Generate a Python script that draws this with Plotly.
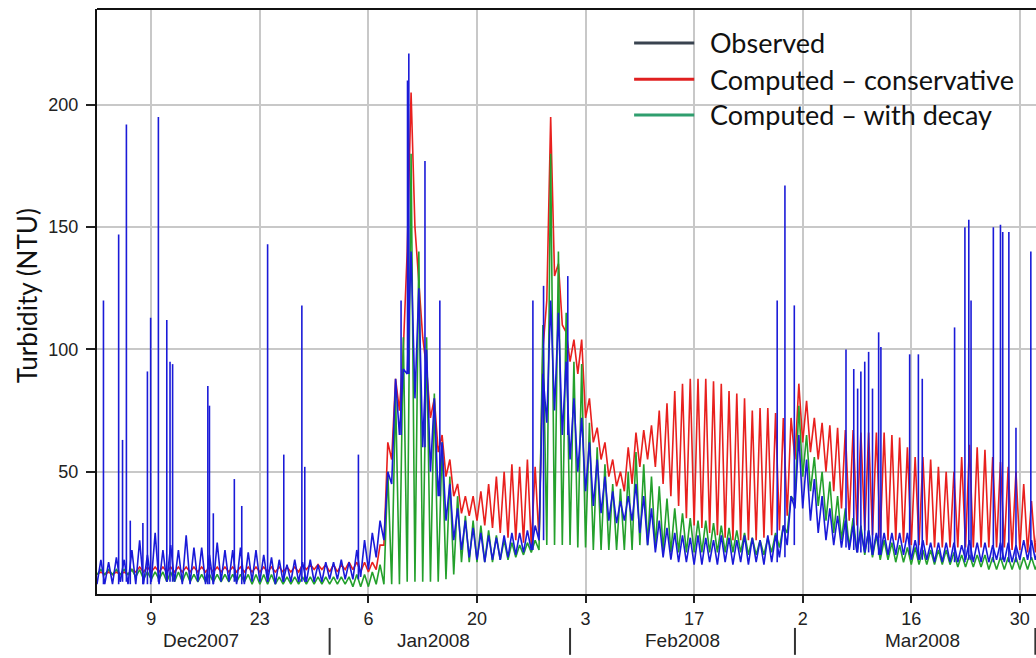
import pandas as pd
import plotly.graph_objects as go

# daily values, one entry per day from 2 Dec 2007 (trough, then peak)
START = "2007-12-02"

RED_LO = [8, 8, 8, 8, 8, 9, 9, 9, 9, 9,
          9, 9, 9, 9, 9, 9, 9, 9, 9, 9,
          9, 9, 9, 9, 9, 9, 9, 10, 10, 10,
          9, 9, 10, 10, 9, 9, 10, 20, 55, 75,
          140, 150, 105, 72, 58, 48, 40, 33, 32, 30,
          28, 27, 25, 23, 22, 21, 20, 22, 120, 130,
          110, 95, 90, 72, 62, 55, 48, 44, 42, 45,
          52, 55, 52, 45, 40, 36, 31, 28, 27, 25,
          24, 23, 22, 22, 22, 22, 23, 24, 26, 32,
          55, 62, 58, 55, 50, 42, 35, 30, 28, 26,
          24, 23, 22, 22, 21, 20, 20, 20, 19, 19,
          19, 19, 19, 19, 19, 19, 19, 19, 18, 18, 17, 17]
RED_HI = [9, 9, 9, 9, 10, 11, 11, 11, 11, 11,
          11, 11, 11, 11, 11, 11, 11, 11, 11, 11,
          11, 11, 11, 11, 11, 11, 12, 12, 12, 12,
          12, 12, 13, 13, 13, 13, 20, 62, 88, 100,
          205, 128, 92, 80, 65, 55, 45, 40, 40, 42,
          45, 48, 50, 53, 52, 55, 52, 100, 195, 135,
          107, 104, 104, 80, 68, 62, 55, 50, 60, 66,
          67, 69, 75, 78, 83, 86, 88, 88, 88, 87,
          86, 83, 82, 80, 75, 76, 76, 74, 72, 72,
          86, 79, 72, 70, 69, 68, 67, 67, 66, 66,
          66, 66, 65, 64, 60, 56, 56, 55, 52, 50,
          50, 56, 61, 60, 59, 56, 54, 52, 50, 45, 38, 37]

GREEN_LO = [8, 8, 8, 8, 8, 7, 6, 6, 6, 5,
            5, 5, 5, 5, 5, 5, 5, 5, 5, 5,
            4, 4, 4, 4, 4, 4, 4, 4, 4, 4,
            4, 4, 4, 3, 3, 3, 4, 4, 4, 4,
            5, 5, 5, 5, 5, 6, 8, 13, 13, 13,
            13, 13, 14, 14, 15, 16, 17, 18, 20, 20,
            20, 20, 19, 19, 18, 18, 18, 18, 18, 18,
            20, 20, 19, 18, 17, 17, 17, 17, 17, 17,
            17, 17, 17, 17, 16, 16, 16, 17, 19, 25,
            38, 48, 42, 36, 30, 25, 22, 19, 17, 16,
            15, 14, 14, 13, 13, 12, 12, 12, 12, 12,
            12, 11, 11, 11, 11, 10, 10, 10, 10, 10, 10, 10]
GREEN_HI = [10, 10, 10, 10, 10, 10, 9, 9, 9, 9,
            9, 9, 8, 8, 8, 8, 8, 8, 8, 8,
            8, 8, 8, 7, 7, 7, 7, 7, 7, 7,
            7, 7, 7, 8, 8, 9, 12, 50, 82, 105,
            180, 140, 105, 82, 62, 48, 40, 32, 30, 28,
            26, 24, 22, 21, 20, 21, 22, 110, 180, 140,
            115, 95, 94, 70, 60, 53, 45, 43, 50, 58,
            53, 48, 44, 39, 35, 33, 31, 30, 30, 29,
            28, 27, 26, 25, 23, 22, 23, 25, 28, 40,
            77, 65, 56, 50, 46, 40, 35, 31, 28, 26,
            24, 22, 21, 20, 19, 19, 18, 18, 18, 18,
            17, 16, 16, 16, 16, 15, 15, 15, 15, 15, 15, 15]

OBS_LO = [4, 4, 4, 5, 4, 4, 4, 5, 4, 5,
          5, 4, 4, 5, 4, 4, 5, 5, 4, 4,
          5, 5, 5, 4, 5, 5, 5, 5, 5, 5,
          6, 6, 6, 6, 7, 10, 15, 22, 45, 65,
          90, 80, 60, 50, 40, 30, 22, 18, 15, 14,
          13, 14, 14, 15, 16, 17, 18, 22, 70, 75,
          65, 55, 50, 42, 36, 33, 30, 29, 30, 30,
          25, 20, 17, 15, 14, 13, 13, 12, 12, 13,
          12, 13, 12, 13, 12, 13, 12, 13, 15, 20,
          35, 35, 30, 25, 22, 20, 19, 18, 17, 17,
          16, 16, 16, 16, 16, 14, 14, 14, 13, 13,
          13, 13, 14, 13, 13, 13, 14, 13, 13, 14, 14, 14]
OBS_HI = [14, 13, 15, 14, 18, 22, 16, 25, 18, 20,
          18, 24, 19, 19, 16, 21, 18, 18, 19, 17,
          18, 16, 15, 14, 12, 14, 13, 14, 12, 13,
          13, 14, 13, 18, 22, 25, 30, 50, 88, 92,
          140, 125, 100, 80, 62, 45, 35, 30, 27, 25,
          24, 23, 24, 25, 25, 26, 28, 90, 120, 115,
          95, 80, 72, 62, 55, 48, 42, 38, 40, 45,
          40, 35, 30, 27, 25, 24, 23, 24, 23, 22,
          24, 23, 22, 24, 23, 22, 24, 24, 28, 40,
          65, 55, 47, 40, 35, 32, 30, 28, 26, 26,
          25, 25, 25, 25, 25, 22, 22, 21, 21, 21,
          21, 20, 22, 21, 21, 20, 21, 21, 20, 22, 22, 21]

# short isolated spikes in the observed record
SPIKE_TIMES = ["2007-12-02 20:00", "2007-12-04 19:00", "2007-12-05 07:00", "2007-12-05 19:00",
               "2007-12-06 07:00", "2007-12-07 22:00", "2007-12-08 12:00", "2007-12-08 22:00",
               "2007-12-09 22:00", "2007-12-11 00:00", "2007-12-11 10:00", "2007-12-11 18:00",
               "2007-12-16 07:00", "2007-12-16 12:00", "2007-12-17 00:00", "2007-12-19 17:00",
               "2007-12-20 16:00", "2007-12-24 00:00", "2007-12-26 02:00", "2007-12-28 10:00",
               "2007-12-28 19:00", "2008-01-04 17:00", "2008-01-10 05:00", "2008-01-11 01:00",
               "2008-01-11 05:00", "2008-01-13 07:00", "2008-01-15 05:00", "2008-01-27 05:00",
               "2008-01-28 14:00", "2008-01-31 17:00", "2008-02-27 17:00", "2008-02-28 17:00",
               "2008-02-29 22:00", "2008-03-07 14:00", "2008-03-08 14:00", "2008-03-09 02:00",
               "2008-03-09 12:00", "2008-03-10 00:00", "2008-03-10 12:00", "2008-03-11 00:00",
               "2008-03-11 19:00", "2008-03-12 02:00", "2008-03-15 19:00", "2008-03-16 22:00",
               "2008-03-17 10:00", "2008-03-21 14:00", "2008-03-22 22:00", "2008-03-23 10:00",
               "2008-03-23 17:00", "2008-03-26 14:00", "2008-03-27 12:00", "2008-03-27 19:00",
               "2008-03-28 14:00", "2008-03-29 12:00", "2008-03-31 10:00"]
SPIKE_NTU = [120, 147, 63, 192,
             30, 29, 91, 113,
             195, 112, 95, 94,
             85, 77, 33, 47,
             36, 143, 57, 118,
             52, 57, 120, 210,
             221, 177, 120, 120,
             126, 130, 120, 167,
             118, 100, 92, 84,
             91, 95, 99, 84,
             107, 101, 98, 98,
             88, 109, 150, 153,
             120, 150, 151, 148,
             148, 68, 140]

TICK_DATES = ["2007-12-09", "2007-12-23", "2008-01-06", "2008-01-20", "2008-02-03",
              "2008-02-17", "2008-03-02", "2008-03-16", "2008-03-30"]
TICK_TEXT = ["9", "23", "6", "20", "3", "17", "2", "16", "30"]
Y_TICKS = [50, 100, 150, 200]
MONTHS = ["Dec2007", "Jan2008", "Feb2008", "Mar2008"]
MONTH_LABEL_AT = ["2007-12-15 10:00", "2008-01-14 08:00", "2008-02-15 12:00", "2008-03-17 12:00"]
MONTH_BREAKS = ["2008-01-01", "2008-02-01", "2008-03-01", "2008-04-01"]

BLUE = "#1a1ad8"
RED = "#e8201e"
GREEN = "#24a02c"
TICK_FONT = dict(family="Liberation Sans, Arial, sans-serif", size=18, color="#222222")
MONTH_FONT = dict(family="Liberation Sans, Arial, sans-serif", size=19, color="#222222")
TEXT_FONT = "Lato, Calibri, sans-serif"

days = pd.date_range(START, periods=len(RED_LO), freq="D")


def zigzag(lo, hi):
    """trough at midnight, peak at noon"""
    xs, ys = [], []
    for day, a, b in zip(days, lo, hi):
        xs += [day, day + pd.Timedelta(hours=12)]
        ys += [a, b]
    return xs, ys


fig = go.Figure()

for lo, hi, colour in [(RED_LO, RED_HI, RED), (GREEN_LO, GREEN_HI, GREEN), (OBS_LO, OBS_HI, BLUE)]:
    x, y = zigzag(lo, hi)
    fig.add_trace(go.Scatter(x=x, y=y, mode="lines", line=dict(color=colour, width=1.6),
                             showlegend=False, hoverinfo="skip"))

sx, sy = [], []
for t, v in zip(SPIKE_TIMES, SPIKE_NTU):
    ts = pd.Timestamp(t)
    base = OBS_LO[(ts - days[0]).days]
    sx += [ts, ts, None]
    sy += [base, v, None]
fig.add_trace(go.Scatter(x=sx, y=sy, mode="lines", line=dict(color=BLUE, width=1.6),
                         showlegend=False, hoverinfo="skip"))

fig.update_xaxes(
    type="date", range=[START, "2008-04-01 02:00"], automargin=False,
    tickvals=TICK_DATES, ticktext=TICK_TEXT, tickfont=TICK_FONT,
    ticks="outside", ticklen=7, tickwidth=1.5, tickcolor="#222222",
    showline=True, linecolor="#111111", linewidth=2,
    showgrid=True, gridcolor="#c8c8c8", gridwidth=1.5, zeroline=False,
)
fig.update_yaxes(
    range=[0, 239.2], automargin=False, tickvals=Y_TICKS, tickfont=TICK_FONT,
    ticks="outside", ticklen=9, tickwidth=1.5, tickcolor="#222222", ticklabelstandoff=4,
    showline=True, linecolor="#111111", linewidth=2,
    showgrid=True, gridcolor="#c8c8c8", gridwidth=1.5, zeroline=False,
)

# top frame line
fig.add_shape(type="line", xref="paper", yref="paper", x0=0, x1=1, y0=1, y1=1,
              line=dict(color="#111111", width=2))

# month separators and labels under the day ticks
for b in MONTH_BREAKS:
    fig.add_shape(type="line", xref="x", yref="paper", x0=b, x1=b, y0=-0.058, y1=-0.104,
                  line=dict(color="#333333", width=2))
for name, at in zip(MONTHS, MONTH_LABEL_AT):
    fig.add_annotation(x=at, y=-0.079, xref="x", yref="paper", text=name, showarrow=False,
                       font=MONTH_FONT, xanchor="center", yanchor="middle")

fig.add_annotation(x=-0.0745, y=0.509, xref="paper", yref="paper", text="Turbidity (NTU)",
                   textangle=-90, showarrow=False, xanchor="center", yanchor="middle",
                   font=dict(family=TEXT_FONT, size=26, color="#111111"))

# hand-drawn legend, observed key line is darker than the plotted series
legend = [("Observed", "#39434f", 0.942),
          ("Computed – conservative", "#e02020", 0.880),
          ("Computed – with decay", "#2f9e6e", 0.819)]
for label, colour, ly in legend:
    fig.add_shape(type="line", xref="paper", yref="paper", x0=0.572, x1=0.636, y0=ly, y1=ly,
                  line=dict(color=colour, width=3))
    fig.add_annotation(x=0.651, y=ly, xref="paper", yref="paper", text=label, showarrow=False,
                       xanchor="left", yanchor="middle",
                       font=dict(family=TEXT_FONT, size=27, color="#111111"))

fig.update_layout(
    width=1036, height=658,
    margin=dict(l=97, r=0, t=9, b=64),
    paper_bgcolor="white", plot_bgcolor="white",
    showlegend=False,
)

# page body margin would otherwise push the figure 8px down and right
fig.write_html("out.html", config={"displayModeBar": False},
               post_script="document.body.style.margin='0';")
